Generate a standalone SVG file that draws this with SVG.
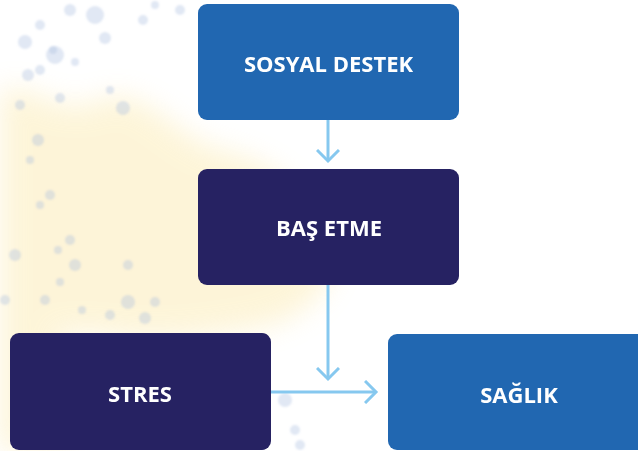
<svg xmlns="http://www.w3.org/2000/svg" width="638" height="451" viewBox="0 0 638 451">
<defs>
<style>
.lbl{font-family:"Open Sans","Noto Sans","Liberation Sans",sans-serif;font-weight:700;font-size:22px;fill:#ffffff;text-anchor:middle}
.blue{fill:#2167b1}
.navy{fill:#262262}
.conn{stroke:#86c8ef;stroke-width:3;fill:none}
.dot{fill:#a9bde0;opacity:0.35}
</style>
<filter id="blur" x="-50%" y="-50%" width="200%" height="200%"><feGaussianBlur stdDeviation="14"/></filter>
<filter id="blur2"><feGaussianBlur stdDeviation="1.2"/></filter>
<marker id="chev" viewBox="0 0 24 24" markerWidth="24" markerHeight="24" refX="12" refY="12" markerUnits="userSpaceOnUse" orient="auto">
<path d="M1,1 L12,12 L1,23" stroke="#86c8ef" stroke-width="3" fill="none"/>
</marker>
</defs>
<rect width="638" height="451" fill="#ffffff"/>
<g id="background">
<g filter="url(#blur)" opacity="0.4">
<path d="M0,90 C30,80 60,120 100,100 C140,80 180,140 220,150 C270,160 300,190 330,230 C345,270 320,310 270,325 C220,335 160,345 100,335 C60,330 20,345 0,340 Z" fill="#fbe6a0"/>
<path d="M0,330 C30,320 60,330 70,360 L70,451 L0,451 Z" fill="#fbe6a0"/>
</g>
<g filter="url(#blur2)">
<circle class="dot" cx="95" cy="15" r="9"/>
<circle class="dot" cx="70" cy="10" r="6"/>
<circle class="dot" cx="105" cy="38" r="6"/>
<circle class="dot" cx="40" cy="25" r="5"/>
<circle class="dot" cx="25" cy="42" r="7"/>
<circle class="dot" cx="53" cy="50" r="4"/>
<circle class="dot" cx="28" cy="75" r="6"/>
<circle class="dot" cx="55" cy="55" r="9"/>
<circle class="dot" cx="20" cy="105" r="5"/>
<circle class="dot" cx="40" cy="70" r="5"/>
<circle class="dot" cx="75" cy="62" r="4"/>
<circle class="dot" cx="38" cy="140" r="6"/>
<circle class="dot" cx="60" cy="98" r="5"/>
<circle class="dot" cx="123" cy="108" r="7"/>
<circle class="dot" cx="143" cy="20" r="5"/>
<circle class="dot" cx="155" cy="5" r="4"/>
<circle class="dot" cx="110" cy="90" r="4"/>
<circle class="dot" cx="50" cy="195" r="5"/>
<circle class="dot" cx="30" cy="160" r="4"/>
<circle class="dot" cx="40" cy="205" r="4"/>
<circle class="dot" cx="70" cy="240" r="5"/>
<circle class="dot" cx="15" cy="255" r="6"/>
<circle class="dot" cx="45" cy="300" r="5"/>
<circle class="dot" cx="58" cy="250" r="4"/>
<circle class="dot" cx="75" cy="265" r="6"/>
<circle class="dot" cx="128" cy="265" r="5"/>
<circle class="dot" cx="128" cy="302" r="7"/>
<circle class="dot" cx="110" cy="315" r="5"/>
<circle class="dot" cx="155" cy="302" r="5"/>
<circle class="dot" cx="145" cy="318" r="6"/>
<circle class="dot" cx="82" cy="310" r="4"/>
<circle class="dot" cx="60" cy="282" r="4"/>
<circle class="dot" cx="5" cy="300" r="5"/>
<circle class="dot" cx="285" cy="400" r="7"/>
<circle class="dot" cx="295" cy="430" r="5"/>
<circle class="dot" cx="300" cy="445" r="5"/>
<circle class="dot" cx="180" cy="10" r="5"/>
</g>
</g>
<g id="connectors">
<line class="conn" x1="328" y1="120" x2="328" y2="161" marker-end="url(#chev)"/>
<line class="conn" x1="328" y1="285" x2="328" y2="379" marker-end="url(#chev)"/>
<line class="conn" x1="271" y1="392" x2="376" y2="392" marker-end="url(#chev)"/>
</g>
<g id="sosyal-destek">
<rect class="blue" x="198" y="4" width="261" height="116" rx="9"/>
<text class="lbl" x="328.5" y="72">SOSYAL DESTEK</text>
</g>
<g id="bas-etme">
<rect class="navy" x="198" y="169" width="261" height="116" rx="9"/>
<text class="lbl" x="329" y="236">BAŞ ETME</text>
</g>
<g id="stres">
<rect class="navy" x="10" y="333" width="261" height="117" rx="9"/>
<text class="lbl" x="140" y="402">STRES</text>
</g>
<g id="saglik">
<rect class="blue" x="388" y="334" width="262" height="116" rx="9"/>
<text class="lbl" x="519" y="403">SAĞLIK</text>
</g>
</svg>
